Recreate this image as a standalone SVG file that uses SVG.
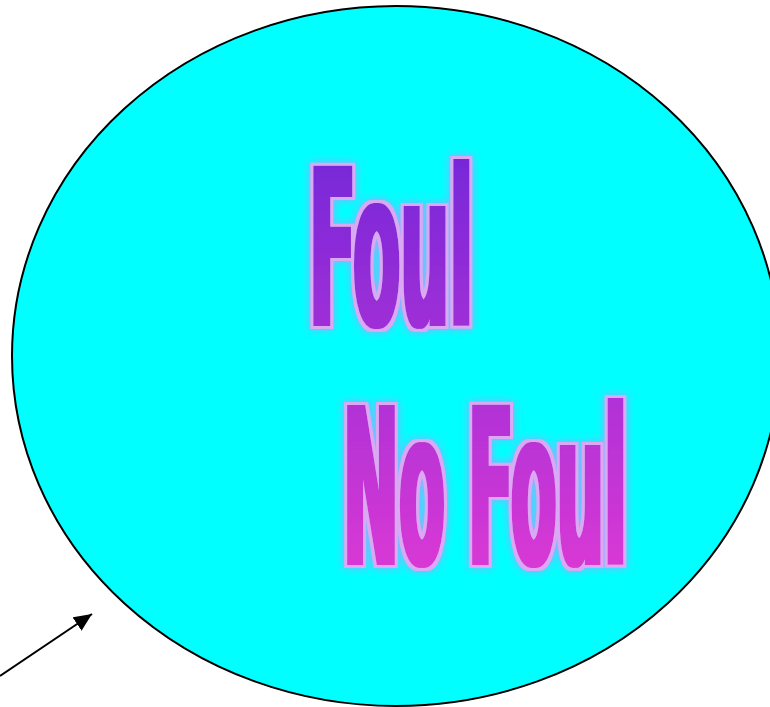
<svg xmlns="http://www.w3.org/2000/svg" width="770" height="707" viewBox="0 0 770 707">
  <style>
    .label { font-family: "DejaVu Sans Condensed", "DejaVu Sans", sans-serif; font-weight: bold; font-size: 219px; }
    .conn { stroke: #000; stroke-width: 2; fill: none; }
  </style>
  <defs>
    <linearGradient id="tg1" gradientUnits="userSpaceOnUse" x1="0" y1="-161" x2="0" y2="241">
      <stop offset="0" stop-color="#7828d8"/>
      <stop offset="1" stop-color="#d838d4"/>
    </linearGradient>
    <linearGradient id="tg2" gradientUnits="userSpaceOnUse" x1="0" y1="-400" x2="0" y2="2">
      <stop offset="0" stop-color="#7828d8"/>
      <stop offset="1" stop-color="#d838d4"/>
    </linearGradient>
    <filter id="glow" x="-20%" y="-20%" width="140%" height="140%">
      <feMorphology in="SourceGraphic" operator="dilate" radius="1.5 0" result="thick"/>
      <feMorphology in="thick" operator="dilate" radius="2.5" result="d"/>
      <feGaussianBlur in="d" stdDeviation="4" result="b"/>
      <feFlood flood-color="#9aa8ff" result="c1"/>
      <feComposite in="c1" in2="b" operator="in" result="glowc"/>
      <feFlood flood-color="#dba8f4" result="c2"/>
      <feComposite in="c2" in2="d" operator="in" result="outline"/>
      <feMerge>
        <feMergeNode in="glowc"/>
        <feMergeNode in="outline"/>
        <feMergeNode in="thick"/>
      </feMerge>
    </filter>
    <marker id="ah" markerUnits="userSpaceOnUse" markerWidth="20" markerHeight="16" refX="18" refY="8" orient="auto">
      <path d="M0,0 L18,8 L0,16 Z" fill="#000"/>
    </marker>
  </defs>
  <g id="circle-node">
    <ellipse cx="396" cy="356" rx="384" ry="350" fill="#00ffff" stroke="#000" stroke-width="2"/>
    <g filter="url(#glow)">
      <text class="label" fill="url(#tg1)" transform="translate(309,326) scale(0.3431,1)" x="0" y="0" textLength="478" lengthAdjust="spacingAndGlyphs">Foul</text>
    </g>
    <g filter="url(#glow)">
      <text class="label" fill="url(#tg2)" transform="translate(343,565) scale(0.3353,1)" x="0" y="0" textLength="847" lengthAdjust="spacingAndGlyphs">No Foul</text>
    </g>
  </g>
  <g id="connectors">
    <line class="conn" x1="0" y1="676" x2="92" y2="614" marker-end="url(#ah)"/>
  </g>
</svg>
